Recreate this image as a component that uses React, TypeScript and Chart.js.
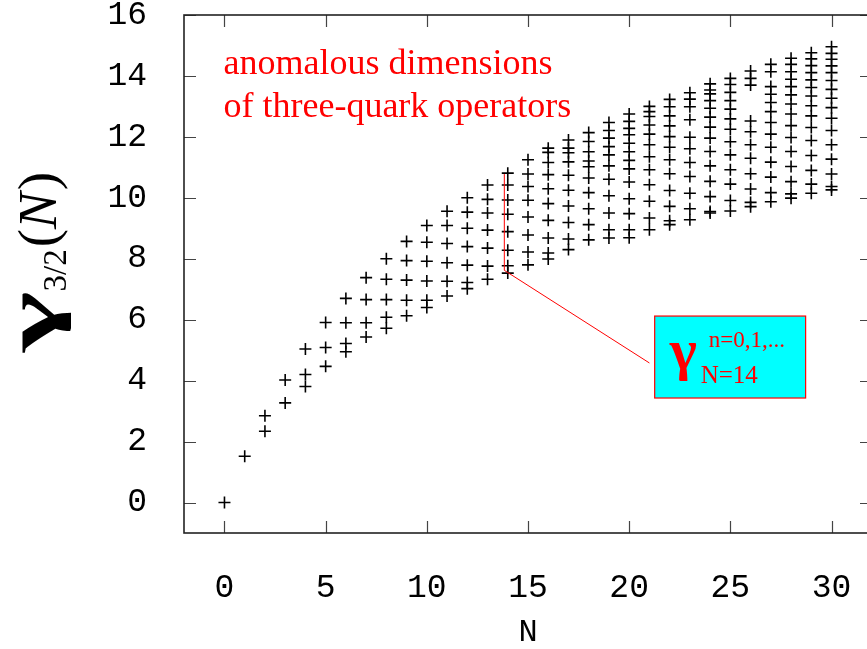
import React, { useEffect, useRef } from "react";
import { Chart, registerables } from "chart.js";

Chart.register(...registerables);

// ---- data: anomalous dimensions gamma_{3/2}(N), one array per N ----
const g00 = [0.0];
const g01 = [1.52];
const g02 = [2.34, 2.85];
const g03 = [3.27, 4.02];
const g04 = [3.81, 4.2, 5.04];
const g05 = [4.47, 5.09, 5.91];
const g06 = [4.95, 5.22, 5.9, 6.7];
const g07 = [5.43, 5.9, 6.66, 7.38];
const g08 = [5.72, 6.08, 6.66, 7.33, 8.0];
const g09 = [6.13, 6.64, 7.3, 7.94, 8.57];
const g10 = [6.4, 6.64, 7.27, 7.92, 8.54, 9.09];
const g11 = [6.78, 7.26, 7.87, 8.5, 9.09, 9.56];
const g12 = [7.02, 7.22, 7.79, 8.4, 9.0, 9.53, 10.0];
const g13 = [7.33, 7.76, 8.35, 8.94, 9.5, 9.95, 10.42];
const g14 = [7.53, 7.77, 8.28, 8.89, 9.46, 9.93, 10.42, 10.81];
const g15 = [7.8, 8.22, 8.78, 9.37, 9.92, 10.37, 10.78, 11.25];
const g16 = [7.99, 8.19, 8.68, 9.26, 9.81, 10.3, 10.76, 11.16, 11.49, 11.63];
const g17 = [8.3, 8.65, 9.19, 9.73, 10.25, 10.74, 11.18, 11.48, 11.63, 11.9];
const g18 = [8.62, 9.12, 9.64, 10.17, 10.65, 11.02, 11.21, 11.51, 11.85, 12.14];
const g19 = [8.68, 8.95, 9.5, 10.07, 10.61, 11.05, 11.41, 11.68, 11.96, 12.21, 12.47];
const g20 = [8.69, 8.95, 9.48, 9.97, 10.52, 10.95, 11.23, 11.51, 11.79, 12.07, 12.28, 12.51, 12.75];
const g21 = [8.95, 9.34, 9.89, 10.43, 10.92, 11.35, 11.74, 12.09, 12.39, 12.67, 12.83, 13.0];
const g22 = [9.12, 9.25, 9.72, 10.24, 10.79, 11.25, 11.66, 12.01, 12.36, 12.69, 12.99, 13.23];
const g23 = [9.28, 9.64, 10.15, 10.7, 11.16, 11.61, 11.99, 12.56, 12.99, 13.24, 13.45];
const g24 = [9.5, 9.55, 10.04, 10.54, 11.05, 11.52, 11.96, 12.32, 12.65, 12.94, 13.19, 13.41, 13.54, 13.74];
const g25 = [9.57, 9.91, 10.45, 10.92, 11.41, 11.84, 12.25, 12.59, 12.91, 13.19, 13.46, 13.72, 13.92];
const g26 = [9.71, 9.85, 10.29, 10.79, 11.3, 11.74, 12.17, 12.52, 13.7, 13.92, 14.16];
const g27 = [9.87, 10.17, 10.68, 11.17, 11.66, 12.09, 12.47, 12.83, 13.13, 13.4, 13.65, 14.14, 14.38];
const g28 = [9.99, 10.13, 10.53, 11.03, 11.52, 11.98, 12.37, 12.75, 13.08, 13.38, 13.65, 13.89, 14.14, 14.38, 14.58];
const g29 = [10.15, 10.45, 10.9, 11.39, 11.88, 12.31, 12.69, 13.02, 13.34, 13.62, 13.87, 14.11, 14.34, 14.56, 14.76];
const g30 = [10.26, 10.37, 10.78, 11.27, 11.74, 12.21, 12.61, 12.96, 13.27, 13.56, 13.85, 14.11, 14.33, 14.55, 14.74, 14.96];

const nValues = [0, 1, 2, 3, 4, 5, 6, 7, 8, 9, 10, 11, 12, 13, 14, 15, 16, 17, 18, 19, 20, 21, 22, 23, 24, 25, 26, 27, 28, 29, 30];
const levelsByN = [g00, g01, g02, g03, g04, g05, g06, g07, g08, g09, g10, g11, g12, g13, g14, g15, g16, g17, g18, g19, g20, g21, g22, g23, g24, g25, g26, g27, g28, g29, g30];

const xTicks = [0, 5, 10, 15, 20, 25, 30];
const yTicks = [0, 2, 4, 6, 8, 10, 12, 14, 16];

const annotationLines = ["anomalous dimensions", "of three-quark operators"];
// pointer line (data coordinates): from top of N=14 group down, then to the label box
const pointerX = [13.83, 13.83, 21.0];
const pointerY = [10.78, 7.62, 4.58];
// label box corners (data coordinates)
const boxX = [21.26, 28.72];
const boxY = [6.12, 3.43];

const MONO = '"Liberation Mono", "DejaVu Sans Mono", monospace';
const SERIF = '"Liberation Serif", "DejaVu Serif", serif';

const zeroPad = (s: any) => {
  s.paddingTop = 0;
  s.paddingBottom = 0;
  s.paddingLeft = 0;
  s.paddingRight = 0;
};

const framePlugin = {
  id: "frame",
  beforeDatasetsDraw(chart: any) {
    const { ctx, chartArea: a, scales } = chart;
    const xs = scales.x;
    const ys = scales.y;
    ctx.save();
    ctx.strokeStyle = "#444";
    ctx.lineWidth = 1.2;
    const tl = 12;
    ctx.beginPath();
    for (const v of xTicks) {
      const px = Math.round(xs.getPixelForValue(v)) + 0.5;
      ctx.moveTo(px, a.bottom);
      ctx.lineTo(px, a.bottom - tl);
      ctx.moveTo(px, a.top);
      ctx.lineTo(px, a.top + tl);
    }
    for (const v of yTicks) {
      const py = Math.round(ys.getPixelForValue(v)) + 0.5;
      ctx.moveTo(a.left, py);
      ctx.lineTo(a.left + tl, py);
      ctx.moveTo(a.right, py);
      ctx.lineTo(a.right - tl, py);
    }
    ctx.stroke();
    ctx.strokeStyle = "#222";
    ctx.lineWidth = 1.6;
    ctx.strokeRect(a.left, a.top, a.right - a.left, a.bottom - a.top);
    ctx.restore();
  },
  afterDatasetsDraw(chart: any) {
    const { ctx, scales } = chart;
    const xs = scales.x;
    const ys = scales.y;
    ctx.save();
    ctx.strokeStyle = "#ff0000";
    ctx.lineWidth = 1;
    ctx.beginPath();
    pointerX.forEach((x, i) => {
      const px = xs.getPixelForValue(x);
      const py = ys.getPixelForValue(pointerY[i]);
      if (i === 0) ctx.moveTo(px, py);
      else ctx.lineTo(px, py);
    });
    ctx.stroke();

    const bx0 = xs.getPixelForValue(boxX[0]);
    const bx1 = xs.getPixelForValue(boxX[1]);
    const by0 = ys.getPixelForValue(boxY[0]);
    const by1 = ys.getPixelForValue(boxY[1]);
    ctx.fillStyle = "#00ffff";
    ctx.fillRect(bx0, by0, bx1 - bx0, by1 - by0);
    ctx.strokeStyle = "#ff0000";
    ctx.lineWidth = 1.2;
    ctx.strokeRect(bx0, by0, bx1 - bx0, by1 - by0);

    ctx.fillStyle = "#ff0000";
    ctx.textBaseline = "alphabetic";
    ctx.textAlign = "left";
    ctx.font = `bold 58px ${SERIF}`;
    ctx.fillText("γ", bx0 + 15, by0 + 53);
    ctx.font = `23px ${SERIF}`;
    ctx.fillText("n=0,1,...", bx0 + 54, by0 + 31);
    ctx.font = `25px ${SERIF}`;
    ctx.fillText("N=14", bx0 + 46, by0 + 67);

    ctx.font = `36px ${SERIF}`;
    const tx = xs.getPixelForValue(0) - 1;
    ctx.fillText(annotationLines[0], tx, 74);
    ctx.fillText(annotationLines[1], tx, 117);
    ctx.restore();
  },
  afterDraw(chart: any) {
    const { ctx, chartArea: a } = chart;
    ctx.save();
    ctx.fillStyle = "#000";
    ctx.font = `32px ${MONO}`;
    ctx.textAlign = "center";
    ctx.textBaseline = "middle";
    ctx.fillText("N", (a.left + a.right) / 2, 633);

    // y-axis title: gamma_{3/2}(N), rotated
    ctx.textAlign = "left";
    ctx.textBaseline = "alphabetic";
    ctx.translate(56, 262);
    ctx.rotate(-Math.PI / 2);
    const gScale = 1.8;
    const fG = `bold 72px ${SERIF}`;
    const fS = `33px ${SERIF}`;
    const fP = `55px ${SERIF}`;
    const fN = `italic 55px ${SERIF}`;
    ctx.font = fG;
    const wG = ctx.measureText("γ").width * gScale;
    ctx.font = fS;
    const wS = ctx.measureText("3/2").width;
    ctx.font = fP;
    const wL = ctx.measureText("(").width;
    const wR = ctx.measureText(")").width;
    ctx.font = fN;
    const wN = ctx.measureText("N").width;
    const total = wG + wS + wL + wN + wR + 4;
    let x = -total / 2;
    ctx.font = fG;
    ctx.save();
    ctx.translate(x, 0);
    ctx.scale(gScale, 1);
    ctx.fillText("γ", 0, 0);
    ctx.restore();
    x += wG;
    ctx.font = fS;
    ctx.fillText("3/2", x, 10);
    x += wS + 2;
    ctx.font = fP;
    ctx.fillText("(", x, 0);
    x += wL;
    ctx.font = fN;
    ctx.fillText("N", x, 0);
    x += wN + 2;
    ctx.font = fP;
    ctx.fillText(")", x, 0);
    ctx.restore();
  },
};

export default function App() {
  const ref = useRef<HTMLCanvasElement | null>(null);

  useEffect(() => {
    if (!ref.current) return;
    const points: { x: number; y: number }[] = [];
    nValues.forEach((n, i) => {
      levelsByN[i].forEach((v) => points.push({ x: n, y: v }));
    });

    const chart = new Chart(ref.current, {
      type: "scatter",
      data: {
        datasets: [
          {
            data: points,
            pointStyle: "cross",
            pointRadius: 6,
            pointHoverRadius: 6,
            pointBorderWidth: 1.6,
            borderColor: "#000",
            backgroundColor: "#000",
          },
        ],
      },
      options: {
        animation: false,
        responsive: false,
        devicePixelRatio: 1,
        events: [],
        layout: { autoPadding: false, padding: { top: 15, left: 0, right: 0, bottom: 0 } },
        plugins: { legend: { display: false }, tooltip: { enabled: false } },
        scales: {
          x: {
            type: "linear",
            min: -2,
            max: 32,
            afterFit: (s: any) => {
              s.height = 116;
              zeroPad(s);
            },
            afterBuildTicks: (s: any) => {
              s.ticks = xTicks.map((v) => ({ value: v }));
            },
            grid: { display: false, drawTicks: false },
            border: { display: false },
            ticks: {
              font: { family: MONO, size: 33 },
              color: "#000",
              padding: 35,
              maxRotation: 0,
              autoSkip: false,
            },
          },
          y: {
            type: "linear",
            min: -1,
            max: 16,
            afterFit: (s: any) => {
              s.width = 184;
              zeroPad(s);
            },
            afterBuildTicks: (s: any) => {
              s.ticks = yTicks.map((v) => ({ value: v }));
            },
            grid: { display: false, drawTicks: false },
            border: { display: false },
            ticks: {
              font: { family: MONO, size: 33 },
              color: "#000",
              padding: 37,
              autoSkip: false,
            },
          },
        },
      },
      plugins: [framePlugin],
    });
    return () => chart.destroy();
  }, []);

  return (
    <div
      style={{
        position: "absolute",
        left: 0,
        top: 0,
        width: 867,
        height: 649,
        overflow: "hidden",
        background: "#fff",
      }}
    >
      <canvas ref={ref} width={872} height={649} style={{ display: "block" }} />
    </div>
  );
}
